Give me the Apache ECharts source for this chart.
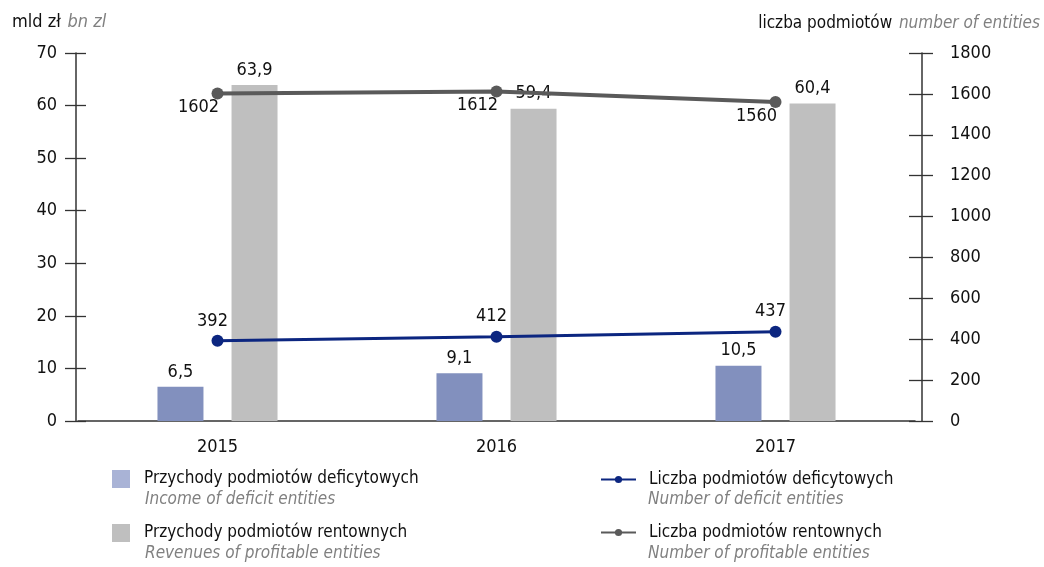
<!DOCTYPE html>
<html>
<head>
<meta charset="utf-8">
<script src="https://cdn.jsdelivr.net/npm/echarts@6/dist/echarts.min.js"></script>
<style>
  html, body { margin: 0; padding: 0; background: #fff; }
  #chart { width: 1044px; height: 567px; }
</style>
</head>
<body>
<div id="chart"></div>
<script>
var years = ['2015', '2016', '2017'];
var deficitRevenue = [6.5, 9.1, 10.5];
var profitRevenue = [63.9, 59.4, 60.4];
var deficitCount = [392, 412, 437];
var profitCount = [1602, 1612, 1560];

var FONT = '"Liberation Sans Narrow", "DejaVu Sans Condensed", sans-serif';
var comma = function (p) { return String(p.value).replace('.', ','); };

var chart = echarts.init(document.getElementById('chart'));

// extra axes only draw the inner half of the crossing ticks
function tickAxis(pos, max, interval, len, off) {
  return {
    type: 'value', position: pos, offset: off, min: 0, max: max, interval: interval,
    axisLine: { show: false },
    axisTick: { show: true, inside: true, length: len, lineStyle: { color: '#333', width: 1.3 } },
    axisLabel: { show: false },
    splitLine: { show: false }
  };
}

chart.setOption({
  backgroundColor: '#fff',
  animation: false,
  grid: { left: 78, right: 129, top: 53, bottom: 146 },
  xAxis: {
    type: 'category',
    data: years,
    axisLine: { lineStyle: { color: '#333', width: 1.5 } },
    axisTick: { show: false },
    axisLabel: { margin: 17, fontFamily: FONT, fontSize: 18, color: '#111' }
  },
  yAxis: [{
    type: 'value', position: 'left', offset: 2, min: 0, max: 70, interval: 10,
    axisLine: { show: true, lineStyle: { color: '#333', width: 1.5 } },
    axisTick: { show: true, length: 11, lineStyle: { color: '#333', width: 1.3 } },
    axisLabel: { margin: 19, fontFamily: FONT, fontSize: 18, color: '#111' },
    splitLine: { show: false }
  }, {
    type: 'value', position: 'right', offset: 7, min: 0, max: 1800, interval: 200,
    axisLine: { show: true, lineStyle: { color: '#333', width: 1.5 } },
    axisTick: { show: true, length: 11, lineStyle: { color: '#333', width: 1.3 } },
    axisLabel: { margin: 28, fontFamily: FONT, fontSize: 18, color: '#111', formatter: function (v) { return String(v); } },
    splitLine: { show: false }
  },
  tickAxis('left', 70, 10, 10, 2),
  tickAxis('right', 1800, 200, 13, 7)
  ],
  legend: [{
    orient: 'vertical', left: 112, top: 470, padding: 0, itemGap: 36,
    itemWidth: 18, itemHeight: 18,
    textStyle: { fontFamily: FONT, fontSize: 17, color: '#111', padding: [0, 0, 0, 9] },
    data: [
      { name: 'Przychody podmiotów deficytowych', icon: 'rect', itemStyle: { color: '#a9b3d6' } },
      { name: 'Przychody podmiotów rentownych', icon: 'rect', itemStyle: { color: '#bfbfbf' } }
    ]
  }, {
    orient: 'vertical', left: 600, top: 471, padding: 0, itemGap: 36,
    itemWidth: 35, itemHeight: 9,
    textStyle: { fontFamily: FONT, fontSize: 17, color: '#111', padding: [0, 0, 0, 8] },
    data: ['Liczba podmiotów deficytowych', 'Liczba podmiotów rentownych']
  }],
  graphic: [
    { type: 'text', left: 12, top: 13, style: { text: '{a|mld zł}  {b|bn zl}', rich: {
      a: { fontFamily: FONT, fontSize: 18, fill: '#111' },
      b: { fontFamily: FONT, fontSize: 18, fontStyle: 'italic', fill: '#808080' } } } },
    { type: 'text', right: 4, top: 15, style: { text: '{a|liczba podmiotów}  {b|number of entities}', rich: {
      a: { fontFamily: FONT, fontSize: 17, fill: '#111' },
      b: { fontFamily: FONT, fontSize: 17, fontStyle: 'italic', fill: '#808080' } } } },
    { type: 'text', left: 145, top: 491, style: { text: 'Income of deficit entities', font: 'italic 17px ' + FONT, fill: '#808080' } },
    { type: 'text', left: 145, top: 545, style: { text: 'Revenues of profitable entities', font: 'italic 17px ' + FONT, fill: '#808080' } },
    { type: 'text', left: 648, top: 491, style: { text: 'Number of deficit entities', font: 'italic 17px ' + FONT, fill: '#808080' } },
    { type: 'text', left: 648, top: 545, style: { text: 'Number of profitable entities', font: 'italic 17px ' + FONT, fill: '#808080' } }
  ],
  series: [{
    name: 'Przychody podmiotów deficytowych',
    type: 'bar',
    yAxisIndex: 0,
    barWidth: 46,
    barGap: '61%',
    itemStyle: { color: '#8290be' },
    label: { show: true, position: 'top', distance: 6, formatter: comma, fontFamily: FONT, fontSize: 18, color: '#111' },
    data: deficitRevenue
  }, {
    name: 'Przychody podmiotów rentownych',
    type: 'bar',
    yAxisIndex: 0,
    barWidth: 46,
    barGap: '61%',
    itemStyle: { color: '#bfbfbf' },
    label: { show: true, position: 'top', distance: 6, formatter: comma, fontFamily: FONT, fontSize: 18, color: '#111' },
    data: profitRevenue
  }, {
    name: 'Liczba podmiotów deficytowych',
    type: 'line',
    yAxisIndex: 1,
    symbol: 'circle',
    symbolSize: 12,
    lineStyle: { color: '#0c2680', width: 3 },
    itemStyle: { color: '#0c2680' },
    label: { show: true, position: 'top', distance: 5, offset: [-5, 0], fontFamily: FONT, fontSize: 18, color: '#111' },
    data: deficitCount
  }, {
    name: 'Liczba podmiotów rentownych',
    type: 'line',
    yAxisIndex: 1,
    symbol: 'circle',
    symbolSize: 12,
    lineStyle: { color: '#5a5a5a', width: 4 },
    itemStyle: { color: '#5a5a5a' },
    label: { show: true, position: 'bottom', distance: 4, offset: [-19, -5], fontFamily: FONT, fontSize: 18, color: '#111' },
    data: profitCount
  }]
});
</script>
</body>
</html>
